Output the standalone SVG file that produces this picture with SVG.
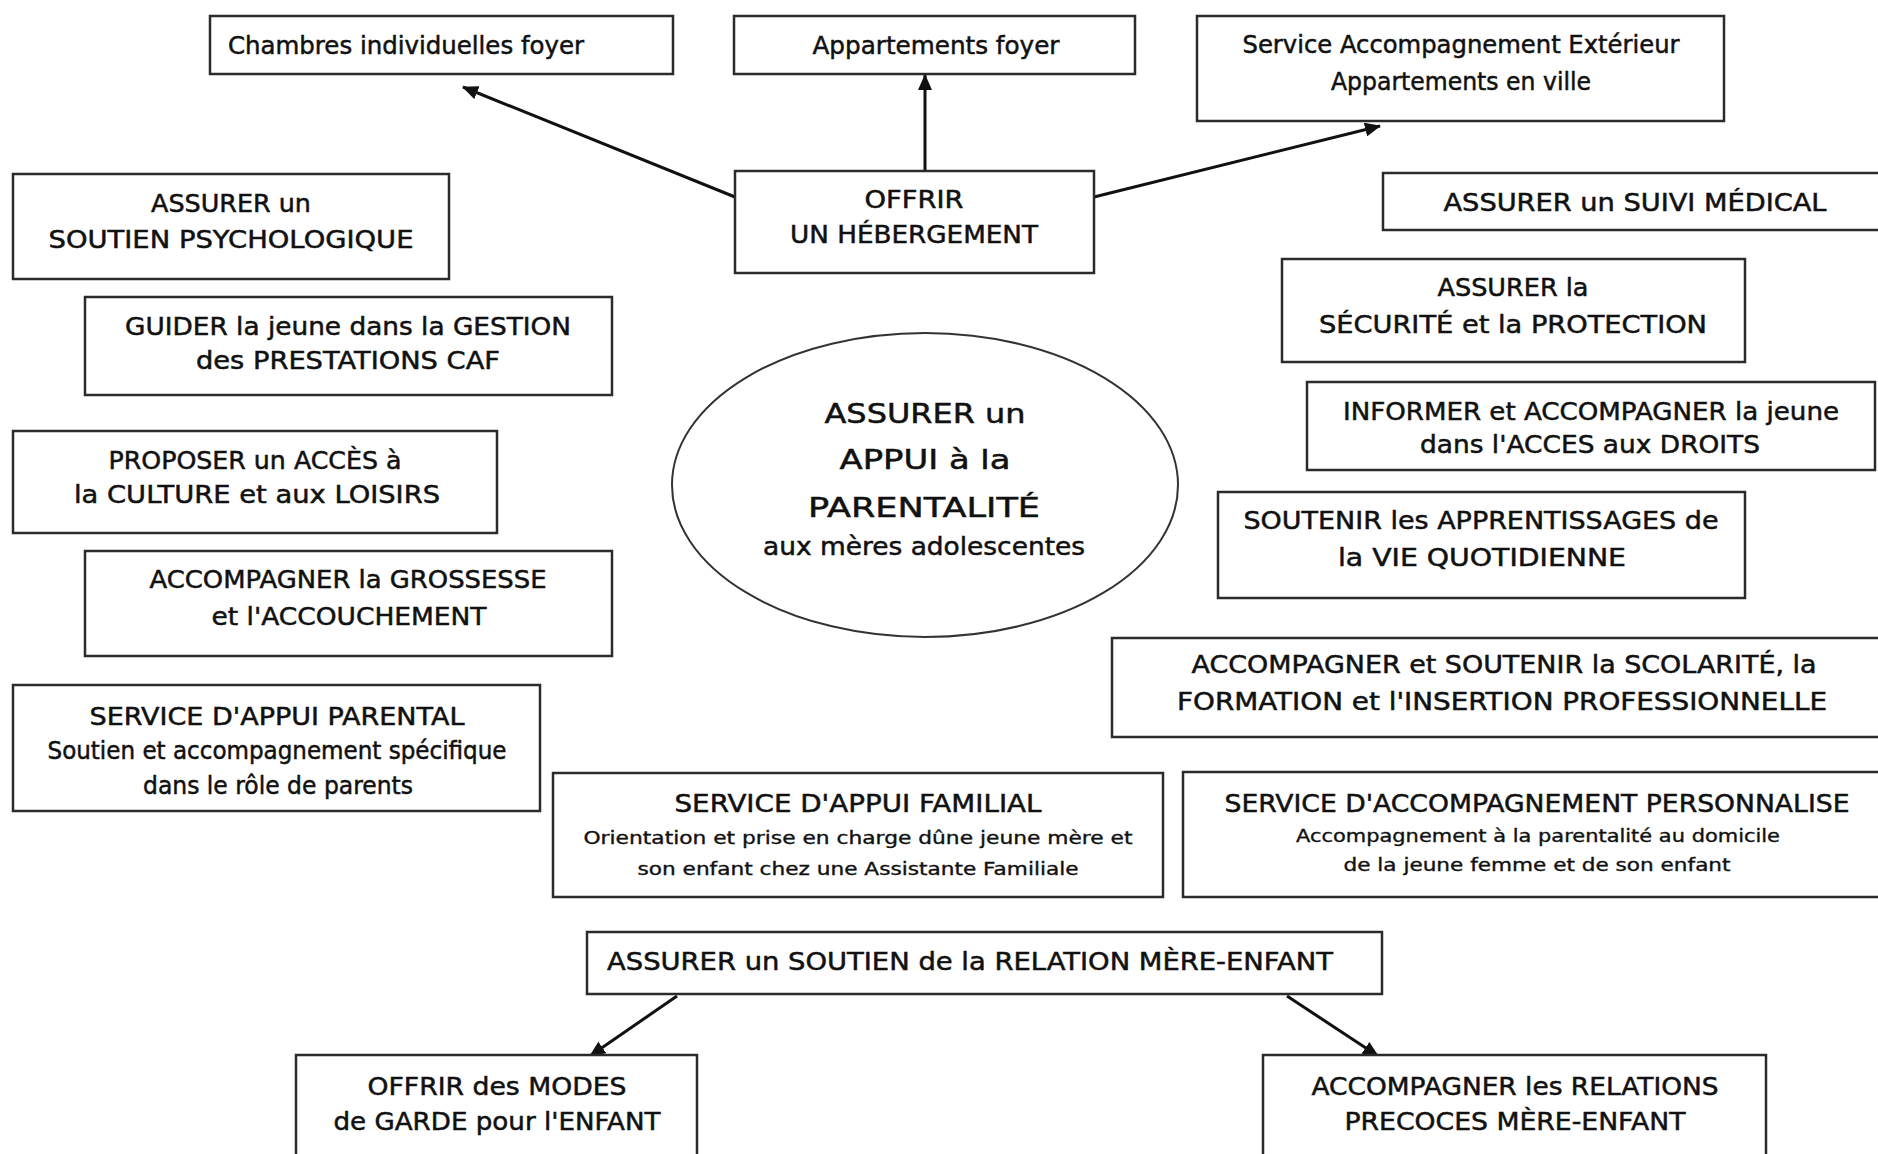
<svg xmlns="http://www.w3.org/2000/svg" width="1878" height="1154" viewBox="0 0 1878 1154">
<defs>
<marker id="arr" markerUnits="userSpaceOnUse" markerWidth="16" markerHeight="14" refX="15" refY="7" orient="auto">
<path d="M0,0 L16,7 L0,14 Z" fill="#111"/>
</marker>
<style>
.bg{fill:#fff}
.box{fill:#fff;stroke:#2b2b2b;stroke-width:2.5}
.ell{fill:#fff;stroke:#333;stroke-width:2}
text{font-family:"DejaVu Sans","Liberation Sans",sans-serif;fill:#111;stroke:#111;stroke-width:0.5;font-size:24px;text-anchor:middle}
.l{text-anchor:start}
.s{font-size:17px;stroke-width:0.35}
.e{font-size:27px}
.con{stroke:#111;stroke-width:3;fill:none;marker-end:url(#arr)}
</style>
</defs>
<rect class="bg" x="0" y="0" width="1878" height="1154"/>

<g id="connectors">
<line class="con" x1="735" y1="197" x2="463" y2="87"/>
<line class="con" x1="925" y1="171" x2="925" y2="75"/>
<line class="con" x1="1094" y1="197" x2="1380" y2="126"/>
<line class="con" x1="677" y1="996" x2="590" y2="1056"/>
<line class="con" x1="1287" y1="996" x2="1378" y2="1056"/>
</g>

<g id="chambres">
<rect class="box" x="210" y="16" width="463" height="58"/>
<text class="l" x="228" y="54" textLength="356" lengthAdjust="spacingAndGlyphs">Chambres individuelles foyer</text>
</g>
<g id="appartements">
<rect class="box" x="734" y="16" width="401" height="58"/>
<text x="936" y="54" textLength="247" lengthAdjust="spacingAndGlyphs">Appartements foyer</text>
</g>
<g id="sae">
<rect class="box" x="1197" y="16" width="527" height="105"/>
<text x="1461" y="53" textLength="437" lengthAdjust="spacingAndGlyphs">Service Accompagnement Extérieur</text>
<text x="1461" y="90" textLength="260" lengthAdjust="spacingAndGlyphs">Appartements en ville</text>
</g>
<g id="hebergement">
<rect class="box" x="735" y="171" width="359" height="102"/>
<text x="914" y="208" textLength="99" lengthAdjust="spacingAndGlyphs">OFFRIR</text>
<text x="914" y="243" textLength="248" lengthAdjust="spacingAndGlyphs">UN HÉBERGEMENT</text>
</g>
<g id="psycho">
<rect class="box" x="13" y="174" width="436" height="105"/>
<text x="231" y="212" textLength="160" lengthAdjust="spacingAndGlyphs">ASSURER un</text>
<text x="231" y="248" textLength="365" lengthAdjust="spacingAndGlyphs">SOUTIEN PSYCHOLOGIQUE</text>
</g>
<g id="medical">
<rect class="box" x="1383" y="173" width="510" height="57"/>
<text x="1635" y="211" textLength="383" lengthAdjust="spacingAndGlyphs">ASSURER un SUIVI MÉDICAL</text>
</g>
<g id="caf">
<rect class="box" x="85" y="297" width="527" height="98"/>
<text x="348" y="335" textLength="446" lengthAdjust="spacingAndGlyphs">GUIDER la jeune dans la GESTION</text>
<text x="348" y="369" textLength="304" lengthAdjust="spacingAndGlyphs">des PRESTATIONS CAF</text>
</g>
<g id="securite">
<rect class="box" x="1282" y="259" width="463" height="103"/>
<text x="1513" y="296" textLength="151" lengthAdjust="spacingAndGlyphs">ASSURER la</text>
<text x="1513" y="333" textLength="388" lengthAdjust="spacingAndGlyphs">SÉCURITÉ et la PROTECTION</text>
</g>
<g id="culture">
<rect class="box" x="13" y="431" width="484" height="102"/>
<text x="255" y="469" textLength="293" lengthAdjust="spacingAndGlyphs">PROPOSER un ACCÈS à</text>
<text x="257" y="503" textLength="366" lengthAdjust="spacingAndGlyphs">la CULTURE et aux LOISIRS</text>
</g>
<g id="droits">
<rect class="box" x="1307" y="382" width="568" height="88"/>
<text x="1591" y="420" textLength="496" lengthAdjust="spacingAndGlyphs">INFORMER et ACCOMPAGNER la jeune</text>
<text x="1590" y="453" textLength="340" lengthAdjust="spacingAndGlyphs">dans l'ACCES aux DROITS</text>
</g>
<g id="centre">
<ellipse class="ell" cx="925" cy="485" rx="253" ry="152"/>
<text class="e" x="925" y="423" textLength="201" lengthAdjust="spacingAndGlyphs">ASSURER un</text>
<text class="e" x="925" y="469" textLength="171" lengthAdjust="spacingAndGlyphs">APPUI à la</text>
<text class="e" x="924" y="517" textLength="232" lengthAdjust="spacingAndGlyphs">PARENTALITÉ</text>
<text x="924" y="555" textLength="322" lengthAdjust="spacingAndGlyphs">aux mères adolescentes</text>
</g>
<g id="quotidien">
<rect class="box" x="1218" y="492" width="527" height="106"/>
<text x="1481" y="529" textLength="475" lengthAdjust="spacingAndGlyphs">SOUTENIR les APPRENTISSAGES de</text>
<text x="1482" y="566" textLength="288" lengthAdjust="spacingAndGlyphs">la VIE QUOTIDIENNE</text>
</g>
<g id="grossesse">
<rect class="box" x="85" y="551" width="527" height="105"/>
<text x="348" y="588" textLength="397" lengthAdjust="spacingAndGlyphs">ACCOMPAGNER la GROSSESSE</text>
<text x="349" y="625" textLength="275" lengthAdjust="spacingAndGlyphs">et l'ACCOUCHEMENT</text>
</g>
<g id="scolarite">
<rect class="box" x="1112" y="638" width="783" height="99"/>
<text x="1504" y="673" textLength="625" lengthAdjust="spacingAndGlyphs">ACCOMPAGNER et SOUTENIR la SCOLARITÉ, la</text>
<text x="1502" y="710" textLength="650" lengthAdjust="spacingAndGlyphs">FORMATION et l'INSERTION PROFESSIONNELLE</text>
</g>
<g id="appui-parental">
<rect class="box" x="13" y="685" width="527" height="126"/>
<text x="277" y="725" textLength="375" lengthAdjust="spacingAndGlyphs">SERVICE D'APPUI PARENTAL</text>
<text x="277" y="759" textLength="459" lengthAdjust="spacingAndGlyphs">Soutien et accompagnement spécifique</text>
<text x="278" y="794" textLength="270" lengthAdjust="spacingAndGlyphs">dans le rôle de parents</text>
</g>
<g id="appui-familial">
<rect class="box" x="553" y="773" width="610" height="124"/>
<text x="858" y="812" textLength="367" lengthAdjust="spacingAndGlyphs">SERVICE D'APPUI FAMILIAL</text>
<text class="s" x="858" y="844" textLength="549" lengthAdjust="spacingAndGlyphs">Orientation et prise en charge dûne jeune mère et</text>
<text class="s" x="858" y="875" textLength="441" lengthAdjust="spacingAndGlyphs">son enfant chez une Assistante Familiale</text>
</g>
<g id="accompagnement-personnalise">
<rect class="box" x="1183" y="772" width="710" height="125"/>
<text x="1537" y="812" textLength="625" lengthAdjust="spacingAndGlyphs">SERVICE D'ACCOMPAGNEMENT PERSONNALISE</text>
<text class="s" x="1538" y="842" textLength="484" lengthAdjust="spacingAndGlyphs">Accompagnement à la parentalité au domicile</text>
<text class="s" x="1537" y="871" textLength="387" lengthAdjust="spacingAndGlyphs">de la jeune femme et de son enfant</text>
</g>
<g id="relation">
<rect class="box" x="587" y="932" width="795" height="62"/>
<text class="l" x="607" y="970" textLength="726" lengthAdjust="spacingAndGlyphs">ASSURER un SOUTIEN de la RELATION MÈRE-ENFANT</text>
</g>
<g id="garde">
<rect class="box" x="296" y="1055" width="401" height="120"/>
<text x="497" y="1095" textLength="259" lengthAdjust="spacingAndGlyphs">OFFRIR des MODES</text>
<text x="497" y="1130" textLength="327" lengthAdjust="spacingAndGlyphs">de GARDE pour l'ENFANT</text>
</g>
<g id="relations-precoces">
<rect class="box" x="1263" y="1055" width="503" height="120"/>
<text x="1515" y="1095" textLength="407" lengthAdjust="spacingAndGlyphs">ACCOMPAGNER les RELATIONS</text>
<text x="1515" y="1130" textLength="341" lengthAdjust="spacingAndGlyphs">PRECOCES MÈRE-ENFANT</text>
</g>
</svg>
